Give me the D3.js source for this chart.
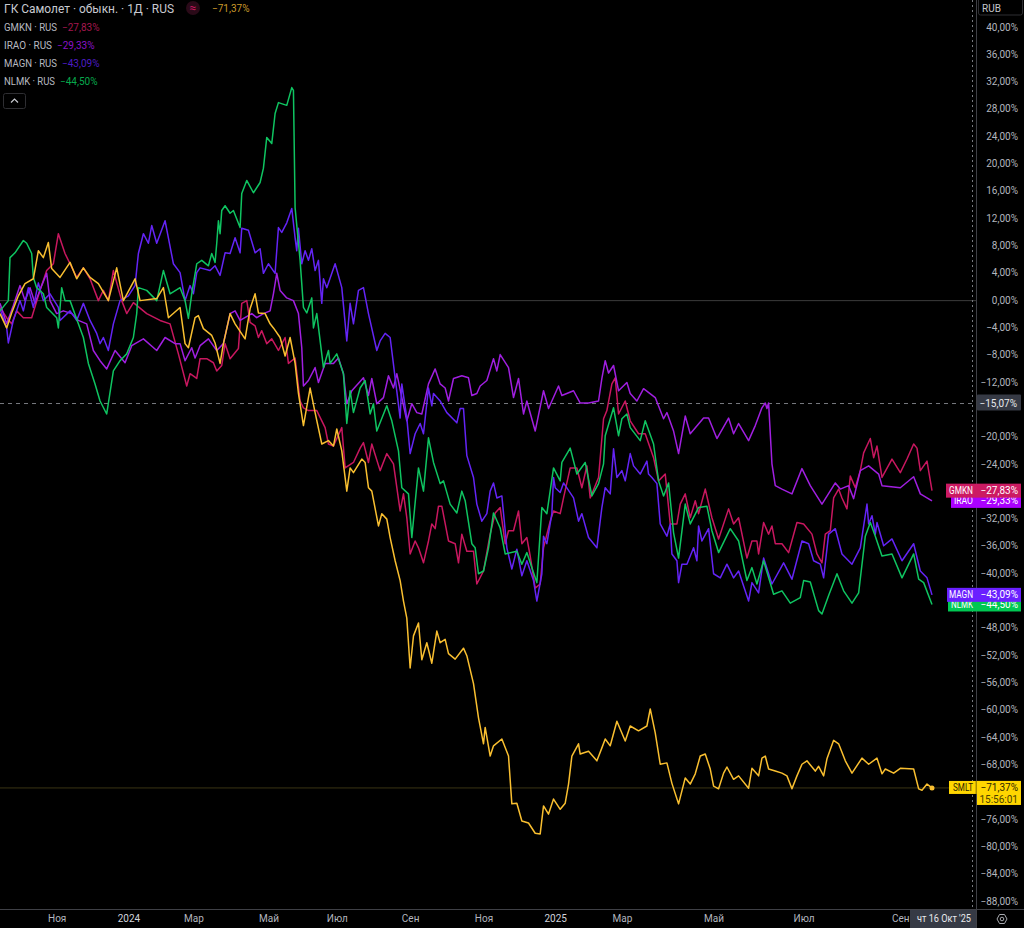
<!DOCTYPE html>
<html><head><meta charset="utf-8">
<script src="https://cdn.jsdelivr.net/npm/d3@7/dist/d3.min.js"></script>
<style>html,body{margin:0;padding:0;background:#000;overflow:hidden}svg{display:block}text{font-family:Roboto,"Open Sans",sans-serif}</style>
</head><body><svg id="c" width="1024" height="928"></svg>
<script>
// [session index, % change]
const nlmk=[[0,-1.5],[5,0],[6,6.3],[9,7],[14,8.8],[16,8.4],[19,6.9],[20,3.4],[22,1.9],[26,1],[28,-1],[34,-2.5],[35,-4],[37,1.9],[39,0],[42,0],[47,-3.4],[50,-5.4],[53,-9.2],[57,-12.2],[60,-14.7],[64,-16.6],[68,-10.3],[72,-8.8],[76,-7.8],[80,-5.4],[82,-1.9],[83,1.9],[88,1.5],[94,0],[98,4.4],[102,1],[108,1.9],[111,0],[113,-2.6],[115,1],[118,5.4],[121,5.9],[125,5.1],[127,6.9],[129,5.6],[130,8.4],[131,11.7],[132,9.8],[133,13.2],[135,13.9],[138,12.8],[140,13.2],[144,10.7],[145,15.7],[148,17.6],[152,15.8],[156,17.3],[158,19.4],[160,23.9],[163,23],[165,27.4],[167,29],[172,28.6],[175,31.2],[176,30.8],[177,13.6],[180,5.9],[182,-1],[184,-1.8],[187,0.4],[188,-4],[190,-1.9],[194,-9.8],[197,-7.3],[198,-9.2],[202,-7.8],[206,-10.7],[208,-18],[210,-13.2],[212,-16.4],[216,-12.8],[219,-11.7],[222,-16.6],[224,-15.1],[226,-19.1],[232,-15.4],[235,-17.6],[239,-22],[241,-27.4],[245,-28.3],[247,-34.7],[251,-24.5],[254,-27.9],[257,-20.1],[260,-23.7],[264,-26.8],[266,-26.4],[270,-29.8],[274,-31.1],[277,-27.9],[279,-29.3],[283,-35.6],[285,-36.2],[287,-40],[290,-39.6],[293,-36.2],[296,-31.1],[300,-33.3],[303,-37.1],[310,-36.7],[313,-38.6],[316,-36.9],[322,-41.3],[325,-30.3],[328,-31.2],[332,-24.5],[336,-26.4],[337,-23.7],[342,-21.6],[346,-25.4],[351,-23.7],[355,-28.6],[359,-26.8],[362,-23.9],[363,-19.8],[368,-15.7],[371,-19.8],[373,-17.3],[376,-16.6],[378,-18.6],[384,-20.5],[387,-17.6],[392,-21],[395,-26.4],[398,-28.6],[401,-26.7],[404,-34],[407,-37.7],[411,-29.8],[414,-32.7],[419,-30.3],[424,-30.1],[427,-33.7],[431,-36.9],[438,-33.4],[443,-35.2],[448,-41],[451,-39.1],[454,-41.5],[458,-38.1],[464,-43],[469,-42.5],[474,-44.3],[480,-43.5],[482,-41],[486,-41.2],[491,-45.4],[493,-45.9],[497,-43.2],[502,-40],[506,-42.5],[511,-44.3],[515,-42.8],[519,-34.5],[522,-32.5],[525,-34.5],[529,-37.4],[535,-37.1],[541,-40.6],[548,-37.1],[551,-40.8],[554,-41.3],[559,-44.5]];
const magn=[[0,-1.2],[4,-4],[5,-6.2],[8,-2.9],[12,0],[14,-1.5],[17,1.9],[20,-1],[23,2.6],[26,0],[30,1],[35,-1],[36,-2.9],[42,-1.5],[46,-2.9],[50,-0.4],[54,-2.9],[58,-4.8],[60,-6.3],[62,-5.4],[65,-7.3],[68,-3.4],[72,0],[77,0.7],[81,2.2],[83,6.9],[86,9.8],[89,8.4],[91,11],[94,8.4],[99,11.7],[101,9.2],[104,5.4],[108,4.1],[111,0],[114,2.2],[116,1],[118,4.1],[120,4.8],[126,4.4],[129,5.1],[132,3.7],[135,7],[138,6.9],[141,9.2],[144,7],[145,10.6],[149,10.3],[153,7],[156,7.6],[158,4],[161,5.4],[165,4],[167,10.7],[169,10],[172,11.4],[175,13.5],[177,9.2],[178,7.3],[179,10.6],[181,5.4],[183,7.3],[185,5.9],[187,7.6],[189,4.4],[191,5.9],[193,-0.4],[194,3.2],[196,1.9],[201,5.4],[205,1.9],[208,-5.9],[210,-0.4],[212,-3.4],[215,1.5],[218,1.9],[221,-1.9],[226,-7.3],[228,-5.9],[231,-4.8],[234,-5.4],[237,-11.3],[240,-17.2],[241,-12.2],[244,-17.2],[246,-22.4],[249,-19.5],[252,-18],[254,-19.5],[257,-12.8],[259,-15.4],[260,-13.6],[264,-14.7],[268,-16.4],[274,-17.9],[276,-15.8],[278,-15.8],[280,-22.7],[284,-25.9],[286,-29.8],[289,-32.3],[292,-31.2],[294,-27.9],[296,-26.7],[298,-28.9],[301,-28.6],[304,-36.2],[307,-39.3],[310,-36.4],[313,-40.3],[316,-38.1],[320,-41],[322,-44],[325,-40],[326,-34.5],[328,-35.6],[331,-31.2],[332,-25.9],[333,-27.4],[336,-28.1],[338,-26.7],[344,-28.9],[347,-32.3],[349,-31.2],[353,-34.7],[358,-36.2],[361,-30.3],[363,-27.4],[366,-28.3],[368,-21.7],[370,-25.9],[373,-24.9],[375,-26.4],[378,-22.4],[380,-24.2],[384,-25.4],[388,-23.5],[389,-25.4],[391,-25.9],[394,-26.8],[396,-32.7],[400,-34.5],[402,-32.7],[403,-37.1],[406,-38.1],[407,-41.3],[409,-38.6],[412,-38.6],[416,-36.2],[418,-38.1],[419,-33],[421,-35.2],[425,-33.4],[428,-40],[432,-40.6],[436,-38.6],[440,-40.6],[443,-39.6],[449,-44],[451,-41.3],[455,-42.8],[458,-37.7],[461,-40],[463,-41.5],[470,-38.4],[475,-40.8],[481,-35.2],[485,-35.6],[488,-38.1],[492,-38.6],[494,-40.6],[497,-34.2],[501,-33.4],[505,-37.1],[511,-38.6],[516,-36.2],[520,-29.8],[521,-32.7],[523,-31.5],[525,-34.2],[526,-32.5],[530,-35.9],[535,-34.9],[541,-38.1],[548,-35.6],[552,-39.6],[556,-40.6],[559,-43.09]];
const gmkn=[[0,-1],[4,-2.5],[7,-3.4],[10,-1.5],[14,-2.5],[19,-2.5],[24,1.5],[28,4.4],[32,5.4],[35,9.8],[39,6.9],[42,5.4],[46,3.4],[50,4.8],[54,3.2],[59,0],[62,1.5],[65,0],[68,4.4],[73,0],[76,-1.9],[80,-0.3],[88,-1.9],[96,-2.9],[102,-3.4],[107,-7.8],[112,-12.5],[114,-10.7],[118,-11.4],[120,-8.5],[124,-8.5],[128,-9.1],[130,-10.3],[133,-9.5],[135,-6.3],[138,-8.5],[143,-7],[145,-0.4],[148,0],[150,-3.2],[153,-3.7],[155,-5.4],[157,-4.4],[160,-6.3],[163,-5.6],[167,-7.3],[171,-5.4],[173,-9.2],[177,-8.4],[180,-14.7],[182,-15.7],[185,-16.1],[190,-16.1],[195,-18.6],[197,-21],[200,-21.3],[205,-18.6],[207,-24.5],[212,-23.7],[216,-21.6],[218,-20.8],[221,-23.7],[223,-21],[228,-24.9],[232,-22.4],[236,-23.9],[240,-30.8],[242,-28.3],[244,-31.8],[246,-37.1],[249,-35.2],[251,-36.2],[254,-38.4],[257,-35.2],[259,-32.7],[261,-33.4],[263,-30.1],[265,-30.1],[269,-35.2],[273,-35.6],[275,-38.4],[277,-34.2],[280,-36.7],[284,-36.7],[286,-41.5],[290,-39.6],[294,-34.2],[297,-31.1],[300,-30.3],[303,-35.6],[305,-33.7],[308,-33.7],[311,-30.8],[313,-35.6],[316,-34.7],[318,-37.4],[321,-42.1],[324,-41.5],[326,-36.2],[330,-32.3],[332,-30.8],[336,-31.2],[338,-28.9],[342,-24.5],[346,-24.5],[349,-27.4],[352,-24.2],[354,-28.9],[359,-25.9],[362,-17.3],[364,-16.1],[367,-12.2],[369,-11.3],[371,-16.6],[375,-14.7],[378,-17.6],[383,-19.5],[387,-19.5],[392,-23],[395,-26.4],[399,-25.4],[402,-32.7],[406,-32.7],[408,-29.8],[411,-28.3],[414,-31.8],[417,-29.3],[419,-31.2],[423,-27.6],[427,-31.8],[431,-34.9],[437,-30.5],[440,-32.7],[443,-31.8],[448,-37.7],[451,-35.2],[454,-35.2],[455,-37.1],[458,-32.5],[461,-34.2],[463,-33],[465,-35.6],[469,-35.6],[473,-36.9],[478,-32.5],[482,-32.7],[487,-34.2],[490,-37.1],[493,-38.4],[495,-34.2],[498,-33.7],[500,-28.9],[503,-27.6],[505,-28.9],[508,-30.5],[510,-25.7],[513,-27.4],[516,-24.9],[518,-22.3],[522,-20.2],[524,-23],[526,-21.3],[529,-25.9],[535,-23.2],[540,-25.2],[544,-23.2],[548,-21],[550,-21.6],[552,-24.9],[556,-23.5],[559,-27.83]];
const irao=[[0,-0.4],[4,-3.4],[8,-0.7],[12,2.2],[15,0],[18,1.9],[21,-0.4],[25,2.2],[28,4],[30,0],[34,-1.9],[38,-1.5],[43,-1.9],[47,-2.9],[52,-3.4],[56,-7.3],[60,-8.8],[64,-10],[69,-7.3],[75,-9.1],[79,-6.6],[86,-5.6],[94,-7.3],[99,-5.4],[105,-6.3],[108,-6.3],[111,-8.8],[115,-6.9],[117,-8.4],[120,-6.6],[125,-5.6],[130,-7.3],[134,-6.3],[138,-1.9],[141,-1.5],[144,-2.9],[151,-1.9],[154,-2.5],[158,-1.9],[162,-1.5],[164,1],[166,4],[168,1.5],[172,0.4],[176,0],[179,-1.9],[181,-6.9],[182,-12.5],[185,-11.7],[189,-9.8],[191,-12],[195,-9.2],[200,-9.2],[203,-8.4],[206,-10.7],[208,-15.1],[211,-13.2],[218,-11.3],[221,-13.9],[223,-11.4],[226,-15.1],[230,-14.2],[233,-11],[236,-12.8],[238,-10.7],[241,-14.2],[244,-17.6],[247,-15.1],[250,-16.4],[253,-16.6],[257,-12.2],[261,-10],[264,-12.2],[267,-12.8],[269,-14.7],[272,-11.4],[277,-11],[281,-11.3],[283,-13.9],[286,-13.6],[288,-12.5],[292,-11.7],[296,-8.5],[298,-10.3],[300,-7.9],[305,-9.8],[308,-14.2],[311,-11.4],[314,-16.6],[316,-14.7],[321,-19.1],[326,-13.2],[329,-15.8],[335,-12.5],[337,-13.9],[344,-13.2],[348,-15],[353,-15],[359,-14.7],[361,-11.4],[363,-8.8],[365,-10.6],[368,-9.5],[371,-13.2],[376,-12],[378,-13.6],[382,-14.7],[386,-12.9],[393,-14.2],[398,-17.3],[400,-16.4],[404,-19.1],[407,-22.4],[411,-16.9],[414,-19.5],[422,-17.2],[425,-17.2],[430,-20.2],[437,-17.2],[440,-19.5],[443,-18],[449,-20.5],[453,-18.3],[457,-15.7],[459,-15],[460,-15.8],[461,-15],[463,-23.9],[465,-27.1],[469,-27.6],[475,-28.3],[481,-24.6],[486,-27.1],[493,-29.8],[501,-26.7],[504,-27.6],[509,-27.1],[512,-29],[516,-24.9],[521,-24.2],[527,-25.4],[529,-27.1],[540,-27.4],[548,-25.8],[552,-28.3],[559,-29.33]];
const smlt=[[0,-1.9],[4,-4],[7,-1.8],[11,0.7],[15,2.5],[20,3.2],[23,7.3],[26,6.3],[29,8.5],[31,4.7],[36,3.4],[42,5.6],[46,3.2],[50,4.8],[54,3.4],[59,2.5],[65,0],[70,4.8],[74,0],[81,3.2],[84,0],[94,0.3],[98,1.9],[101,-2.5],[108,-1],[111,-6.3],[113,-6.9],[117,-2.5],[119,-2.2],[122,-4.1],[127,-5.1],[129,-6.2],[132,-9.2],[134,-6.3],[138,-1.9],[141,-3.4],[147,-5.6],[150,-1.2],[153,1],[155,-1.8],[159,-1.9],[162,-3.4],[164,-4],[168,-5.4],[171,-8.1],[174,-5.4],[177,-9.2],[179,-13.6],[182,-18.3],[186,-12.8],[189,-16.4],[193,-21],[197,-20.5],[200,-21.3],[202,-18.8],[205,-22],[208,-27.9],[210,-24.5],[212,-25.2],[217,-23.2],[219,-23.7],[221,-27.4],[223,-27.9],[227,-33],[229,-31.2],[232,-32],[234,-34.7],[237,-38.1],[240,-41],[242,-44],[244,-46.5],[246,-53.8],[248,-49.1],[251,-47.2],[253,-52.6],[256,-50.1],[259,-53.1],[262,-48.4],[264,-50.1],[267,-49.6],[269,-51.7],[273,-52.5],[278,-50.9],[280,-52],[284,-56.1],[287,-61.1],[290,-64.9],[291,-62.5],[294,-66.7],[296,-65.2],[301,-64.2],[305,-66.7],[307,-73.7],[310,-73.6],[313,-76.2],[317,-76.5],[321,-78],[324,-78.1],[326,-74],[329,-75.2],[332,-73],[336,-74.5],[339,-73.6],[341,-70.8],[343,-66.7],[347,-64.9],[348,-66.4],[353,-66],[358,-67.4],[361,-65.5],[363,-64.2],[366,-65.2],[370,-61.6],[375,-64.5],[378,-62.3],[383,-63],[388,-62.3],[390,-59.8],[393,-63.3],[396,-67.9],[400,-67.7],[403,-70.7],[407,-73.7],[411,-69.9],[414,-70.8],[417,-69.3],[420,-66.7],[423,-66.4],[426,-68.6],[428,-71.1],[431,-71.5],[434,-69.2],[436,-68.3],[440,-70.1],[443,-69.6],[449,-71.4],[451,-68.5],[455,-69.6],[457,-67],[459,-66.7],[461,-68.6],[465,-68.9],[469,-69.2],[472,-69.6],[475,-71.5],[478,-69.6],[481,-67.9],[484,-67.4],[489,-68.9],[491,-68.2],[494,-69.6],[496,-67.1],[500,-64.4],[503,-64.9],[507,-67.4],[511,-69.2],[517,-67],[521,-67.9],[526,-67],[529,-69.3],[531,-68.6],[536,-69.2],[540,-68.5],[548,-68.6],[551,-71.5],[553,-71.7],[556,-70.8],[559,-71.37]];

const tickValuesY=[40,36,32,28,24,20,16,12,8,4,0,-4,-8,-12,-20,-24,-32,-36,-40,-48,-52,-56,-60,-64,-68,-76,-80,-84,-88];
const monthSessions=[34,77,116,161,202,246,290,333,373,428,482,540];
const monthLabels=["Ноя","2024","Мар","Май","Июл","Сен","Ноя","2025","Мар","Май","Июл","Сен"];
const crosshairValue=-15.07;
const titleText="ГК Самолет · обыкн. · 1Д · RUS";
const dateLabel="чт 16 Окт '25";
const countdown="15:56:01";

const series=[
 {key:"GMKN",data:gmkn,color:"#c8175f",dim:"#a5174f",tag:"#cc1a62"},
 {key:"IRAO",data:irao,color:"#a01fe0",dim:"#8a12c8",tag:"#aa00ff"},
 {key:"MAGN",data:magn,color:"#6424f5",dim:"#4d1cc4",tag:"#6a20ff"},
 {key:"NLMK",data:nlmk,color:"#0fc461",dim:"#07a84c",tag:"#00c853"},
 {key:"SMLT",data:smlt,color:"#f9bf30",dim:"#c9992a",tag:"#ffd600"}
];
const fmt=v=>(v<0?"−":"")+Math.abs(v).toFixed(2).replace(".",",")+"%";

const svg=d3.select("#c");
const x=d3.scaleLinear().domain([0,559]).range([0,932]);
const y=d3.scaleLinear().domain([40,-88]).range([27.5,901.5]);
const paneRight=976, paneBottom=909;
const small=10;
const fit=(sel,w)=>sel.attr("textLength",w).attr("lengthAdjust","spacingAndGlyphs");
svg.append("rect").attr("width",1024).attr("height",928).attr("fill","#000");

// reference lines
svg.append("line").attr("x1",0).attr("x2",paneRight).attr("y1",y(0)).attr("y2",y(0)).attr("stroke","#3c3c3c").attr("stroke-width",1);
svg.append("line").attr("x1",0).attr("x2",paneRight).attr("y1",y(-71.37)).attr("y2",y(-71.37)).attr("stroke","#3a3414").attr("stroke-width",1);
svg.append("line").attr("x1",0).attr("x2",paneRight).attr("y1",y(crosshairValue)).attr("y2",y(crosshairValue)).attr("stroke","#77797f").attr("stroke-dasharray","4 4").attr("stroke-width",1);
svg.append("line").attr("x1",972.5).attr("x2",972.5).attr("y1",0).attr("y2",paneBottom).attr("stroke","#77797f").attr("stroke-dasharray","2 3").attr("stroke-width",1);

// lines
const line=d3.line().x(d=>x(d[0])).y(d=>y(d[1]));
svg.append("g").selectAll("path").data(series).join("path")
 .attr("d",d=>line(d.data)).attr("fill","none").attr("stroke",d=>d.color).attr("stroke-width",1.5).attr("stroke-linejoin","round");
const lastS=smlt[smlt.length-1];
svg.append("circle").attr("cx",x(lastS[0])).attr("cy",y(lastS[1])).attr("r",2.5).attr("fill","#f9bf30");

// axes
const axisR=svg.append("g").attr("transform",`translate(${paneRight},0)`)
 .call(d3.axisRight(y).tickValues(tickValuesY).tickSize(0).tickPadding(8).tickFormat(fmt));
axisR.select(".domain").remove();
axisR.selectAll("text").attr("fill","#b2b5be").attr("font-size",small).attr("text-anchor","end").attr("x",42).attr("dy","0.25em");
const axisB=svg.append("g").attr("transform",`translate(0,${paneBottom})`)
 .call(d3.axisBottom(x).tickValues(monthSessions).tickSize(0).tickPadding(6).tickFormat((d,i)=>monthLabels[i]));
axisB.select(".domain").remove();
axisB.selectAll("text").attr("fill",(d,i)=>/^20/.test(monthLabels[i])?"#d1d4dc":"#b2b5be").attr("font-size",small);

svg.append("line").attr("x1",paneRight+.5).attr("x2",paneRight+.5).attr("y1",0).attr("y2",928).attr("stroke","#3f4046");
svg.append("line").attr("x1",0).attr("x2",1024).attr("y1",paneBottom+.5).attr("y2",paneBottom+.5).attr("stroke","#3f4046");

// RUB box
svg.append("rect").attr("x",978.5).attr("y",-2).attr("width",44).attr("height",17).attr("rx",2).attr("fill","#000").attr("stroke","#2e2e32");
svg.append("text").attr("x",982).attr("y",11.5).attr("fill","#c4c6cc").attr("font-size",small).text("RUB");

// crosshair labels
svg.append("rect").attr("x",977).attr("y",y(crosshairValue)-9).attr("width",44).attr("height",16).attr("rx",1).attr("fill","#363a45");
svg.append("text").attr("x",1017).attr("y",y(crosshairValue)+3).attr("text-anchor","end").attr("fill","#e8e9ec").attr("font-size",small).text(fmt(crosshairValue));
svg.append("rect").attr("x",910).attr("y",paneBottom+1).attr("width",66).attr("height",19).attr("fill","#363a45");
svg.append("text").attr("x",917).attr("y",paneBottom+13).attr("fill","#e8e9ec").attr("font-size",small).call(fit,54).text(dateLabel);

// price tags: lower series are drawn first
const tagOrder=["IRAO","GMKN","NLMK","MAGN","SMLT"].map(k=>series.find(s=>s.key===k));
const tags=svg.append("g").selectAll("g").data(tagOrder).join("g")
 .attr("transform",d=>`translate(0,${y(d.data[d.data.length-1][1])})`);
const tagW={GMKN:30,IRAO:25,MAGN:29,NLMK:28,SMLT:27};
const tagLabelW={GMKN:24,IRAO:19,MAGN:24,NLMK:22,SMLT:20};
tags.append("rect").attr("x",d=>976-tagW[d.key]).attr("y",-7).attr("width",d=>tagW[d.key]+45).attr("height",d=>d.key==="SMLT"?13:14).attr("fill",d=>d.tag);
tags.filter(d=>d.key==="SMLT").append("rect").attr("x",977).attr("y",-7).attr("width",44).attr("height",24).attr("fill",d=>d.tag);
tags.filter(d=>d.key==="SMLT").append("rect").attr("x",975.5).attr("y",-7).attr("width",1.5).attr("height",13).attr("fill","#000").attr("opacity",.35);
const tagText=d=>d.key==="SMLT"?"#2a2400":"#fff";
tags.append("text").attr("x",d=>973-tagLabelW[d.key]).attr("y",3.5).attr("font-size",small).attr("fill",tagText).attr("textLength",d=>tagLabelW[d.key]).attr("lengthAdjust","spacingAndGlyphs").text(d=>d.key);
tags.append("text").attr("x",1018).attr("y",3.5).attr("text-anchor","end").attr("font-size",small).attr("fill",tagText).text(d=>fmt(d.data[d.data.length-1][1]));
tags.filter(d=>d.key==="SMLT").append("text").attr("x",1018).attr("y",15).attr("text-anchor","end").attr("font-size",small).attr("fill","#4a3f00").text(countdown);

// legend
svg.append("text").attr("x",4).attr("y",12.5).attr("fill","#c8cad0").attr("font-size",13).call(fit,170).text(titleText);
svg.append("circle").attr("cx",193).attr("cy",8).attr("r",7).attr("fill","#2a0a18");
svg.append("text").attr("x",193).attr("y",12).attr("text-anchor","middle").attr("fill","#c8175f").attr("font-size",12).text("≈");
svg.append("text").attr("x",212).attr("y",12).attr("fill","#c9992a").attr("font-size",small).text(fmt(-71.37));
const rows=svg.append("g").selectAll("g").data(series.slice(0,4)).join("g").attr("transform",(d,i)=>`translate(4,${30.5+i*18.3})`);
const rowNameW={GMKN:53,IRAO:48,MAGN:53,NLMK:51};
rows.append("text").attr("fill","#b8bac0").attr("font-size",small).attr("textLength",d=>rowNameW[d.key]).attr("lengthAdjust","spacingAndGlyphs").text(d=>d.key+" · RUS");
rows.append("text").attr("x",d=>rowNameW[d.key]+5).attr("fill",d=>d.dim).attr("font-size",small).text(d=>fmt(d.data[d.data.length-1][1]));
svg.append("rect").attr("x",3.5).attr("y",93.5).attr("width",22).attr("height",15).attr("rx",2).attr("fill","none").attr("stroke","#2e2e32");
svg.append("path").attr("d","M11 102.5l3.5-3.5l3.5 3.5").attr("fill","none").attr("stroke","#c8cad0").attr("stroke-width",1.2);

// settings icon
svg.append("path").attr("d","M997 919l2.5-4.5h5l2.5 4.5l-2.5 4.5h-5z").attr("fill","none").attr("stroke","#a8aab0");
svg.append("circle").attr("cx",1002).attr("cy",919).attr("r",1.8).attr("fill","none").attr("stroke","#a8aab0");
</script></body></html>
